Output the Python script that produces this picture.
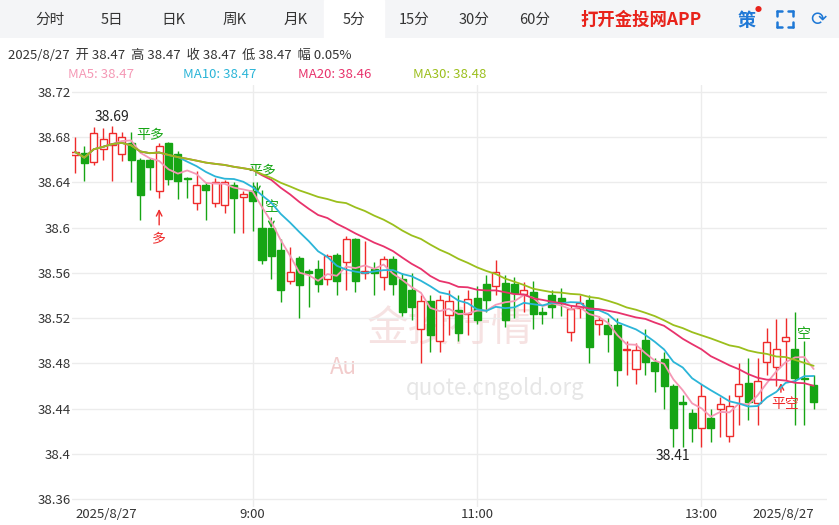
import numpy as np, pandas as pd, matplotlib
matplotlib.use("Agg")
import matplotlib.pyplot as plt, seaborn as sns
from matplotlib.patches import Rectangle
from matplotlib.lines import Line2D

sns.set_style("white")
plt.rcParams['font.family'] = ['Noto Sans CJK SC', 'DejaVu Sans']

opens  = [38.664,38.666,38.658,38.670,38.673,38.665,38.675,38.660,38.660,38.632,38.675,38.665,38.644,38.622,38.638,38.622,38.620,38.638,38.627,38.632,
          38.600,38.600,38.580,38.553,38.573,38.562,38.563,38.555,38.576,38.570,38.590,38.560,38.563,38.556,38.572,38.555,38.545,38.510,38.535,38.500,
          38.523,38.527,38.524,38.538,38.550,38.548,38.551,38.550,38.541,38.543,38.525,38.540,38.538,38.508,38.529,38.536,38.515,38.514,38.514,38.492,
          38.475,38.501,38.481,38.484,38.460,38.446,38.436,38.423,38.432,38.440,38.416,38.451,38.463,38.445,38.481,38.477,38.500,38.493,38.467,38.461]
closes = [38.667,38.657,38.684,38.678,38.684,38.680,38.660,38.629,38.654,38.672,38.643,38.641,38.643,38.638,38.633,38.640,38.640,38.626,38.630,38.624,
          38.571,38.575,38.545,38.561,38.549,38.560,38.550,38.575,38.553,38.590,38.553,38.562,38.560,38.572,38.550,38.525,38.530,38.535,38.505,38.536,
          38.535,38.507,38.537,38.518,38.536,38.561,38.518,38.542,38.545,38.524,38.524,38.530,38.533,38.528,38.533,38.494,38.518,38.506,38.474,38.492,
          38.492,38.481,38.473,38.460,38.423,38.444,38.423,38.451,38.423,38.444,38.442,38.462,38.446,38.464,38.499,38.493,38.503,38.467,38.466,38.446]
highs  = [38.680,38.672,38.689,38.688,38.690,38.685,38.685,38.662,38.662,38.675,38.676,38.668,38.645,38.650,38.640,38.644,38.642,38.640,38.632,38.640,
          38.633,38.600,38.590,38.583,38.575,38.563,38.571,38.577,38.578,38.593,38.591,38.588,38.570,38.575,38.575,38.560,38.560,38.540,38.540,38.540,
          38.545,38.540,38.545,38.548,38.558,38.571,38.558,38.556,38.552,38.553,38.530,38.545,38.547,38.532,38.540,38.540,38.522,38.520,38.520,38.500,
          38.498,38.510,38.485,38.490,38.462,38.452,38.440,38.462,38.440,38.450,38.452,38.480,38.485,38.485,38.511,38.519,38.520,38.525,38.500,38.470]
lows   = [38.648,38.641,38.655,38.660,38.641,38.659,38.640,38.607,38.633,38.626,38.638,38.625,38.626,38.616,38.607,38.618,38.613,38.595,38.595,38.597,
          38.568,38.555,38.534,38.550,38.520,38.530,38.543,38.549,38.540,38.545,38.543,38.555,38.540,38.545,38.540,38.522,38.518,38.480,38.490,38.490,
          38.505,38.500,38.505,38.515,38.525,38.540,38.512,38.520,38.525,38.510,38.515,38.520,38.522,38.500,38.520,38.480,38.505,38.490,38.460,38.470,
          38.462,38.470,38.455,38.440,38.406,38.406,38.410,38.406,38.410,38.415,38.410,38.425,38.430,38.425,38.470,38.460,38.465,38.425,38.425,38.440]
xticks_idx = [0, 19, 43, 67, 79]
xtick_labels = ["2025/8/27", "9:00", "11:00", "13:00", "2025/8/27"]
yticks = [38.36, 38.4, 38.44, 38.48, 38.52, 38.56, 38.6, 38.64, 38.68, 38.72]
ma_names = ["MA5", "MA10", "MA20", "MA30"]
ma_periods = [5, 10, 20, 30]
ma_last = ["38.47", "38.47", "38.46", "38.48"]
ma_colors = ["#f598b5", "#2bb5d8", "#e8336c", "#9bbf1c"]

df = pd.DataFrame({"i": np.arange(len(closes)), "o": opens, "c": closes, "h": highs, "l": lows})
for name, n in zip(ma_names, ma_periods):
    df[name] = df["c"].rolling(n, min_periods=1).mean()

W, H = 839, 525
fig = plt.figure(figsize=(W/100, H/100), dpi=100)
def fx(x): return x / W
def fy(y): return 1 - y / H

tb = fig.add_axes([0, fy(38), 1, 38/H]); tb.axis("off")
tb.add_patch(Rectangle((0, 0), 1, 1, color="#f4f5f7", transform=tb.transAxes))
tb.add_patch(Rectangle((fx(324), 0), fx(60), 1, color="white", transform=tb.transAxes))
tabs = [("分时", 50), ("5日", 112), ("日K", 173), ("周K", 235), ("月K", 296), ("5分", 354), ("15分", 414), ("30分", 474), ("60分", 535)]
for t, x in tabs:
    fig.text(fx(x), fy(20), t, ha="center", va="center", fontsize=10.5, color="#333333")
fig.text(fx(580), fy(20), "打开金投网APP", ha="left", va="center", fontsize=12.5, color="#e8231b", fontweight="bold")
fig.text(fx(747), fy(20), "策", ha="center", va="center", fontsize=13, color="#1e78d6", fontweight="bold")
fig.text(fx(758), fy(10), "●", ha="center", va="center", fontsize=5, color="#e8231b")
# fullscreen corner icon (drawn as shape)
bc = "#1e78d6"
for (cx, cy, dx, dy) in [(777, 11, 1, 1), (793, 11, -1, 1), (777, 27, 1, -1), (793, 27, -1, -1)]:
    fig.add_artist(Line2D([fx(cx), fx(cx + 5*dx)], [fy(cy), fy(cy)], color=bc, lw=1.8))
    fig.add_artist(Line2D([fx(cx), fx(cx)], [fy(cy), fy(cy + 5*dy)], color=bc, lw=1.8))
fig.text(fx(818), fy(19), "⟳", ha="center", va="center", fontsize=14, color=bc, family=["DejaVu Sans"])

fig.text(fx(8), fy(55), "2025/8/27  开 38.47  高 38.47  收 38.47  低 38.47  幅 0.05%", ha="left", va="center", fontsize=9.5, color="#333333")
for name, v, col, x in zip(ma_names, ma_last, ma_colors, [68, 183, 298, 413]):
    fig.text(fx(x), fy(75), f"{name}: {v}", ha="left", va="center", fontsize=9.5, color=col)

ax = fig.add_axes([fx(72), fy(507), fx(827-72), (507-85)/H])
ax.set_xlim((72-75)/9.35, (827-75)/9.35)
ax.set_ylim(38.72 - (507-92)/1130.5, 38.72 + 7/1130.5)
ax.set_yticks(yticks); ax.set_yticklabels([f"{v:g}" for v in yticks], fontsize=9.5, color="#333333")
ax.set_xticks(xticks_idx); ax.set_xticklabels(xtick_labels, fontsize=9.5, color="#333333")
lbls = ax.get_xticklabels()
lbls[0].set_ha("left"); lbls[-1].set_ha("right")
ax.tick_params(length=0, pad=1)
ax.grid(axis="y", color="#ececec", lw=1)
for i in xticks_idx[1:4]:
    ax.axvline(i, color="#ececec", lw=1, zorder=0)
for s in ax.spines.values(): s.set_visible(False)

ax.text(0.5, 0.42, "金投行情", transform=ax.transAxes, fontsize=30, color="#f3d6d6", ha="center", va="center", alpha=0.7, zorder=0)
ax.text(0.56, 0.28, "quote.cngold.org", transform=ax.transAxes, fontsize=16, color="#e6e6e6", ha="center", va="center", zorder=0)
ax.text(0.36, 0.33, "Au", transform=ax.transAxes, fontsize=16, color="#f2cccc", ha="center", va="center", zorder=0)

w = 0.75
for r in df.itertuples():
    up = r.c >= r.o
    col = "#ef2b2b" if up else "#16a514"
    lo, hi = min(r.o, r.c), max(r.o, r.c)
    ax.vlines(r.i, r.l, lo, color=col, lw=1, zorder=2)
    ax.vlines(r.i, hi, r.h, color=col, lw=1, zorder=2)
    hgt = max(hi - lo, 0.0008)
    ax.add_patch(Rectangle((r.i - w/2, lo), w, hgt, facecolor="white" if up else col, edgecolor=col, lw=1, zorder=3))

for name, col in zip(ma_names, ma_colors):
    sns.lineplot(data=df, x="i", y=name, color=col, lw=1.3, ax=ax, zorder=4)
ax.set_xlabel(""); ax.set_ylabel("")

ax.text(4, 38.692, "38.69", fontsize=10, ha="center", va="bottom", color="#222222")
ax.text(64, 38.404, "38.41", fontsize=10, ha="center", va="top", color="#222222")
g, rd = "#16a514", "#ef2b2b"
ax.text(8, 38.682, "平多", color=g, fontsize=10, ha="center", va="center", zorder=5)
ax.annotate("", xy=(9, 38.619), xytext=(9, 38.600), arrowprops=dict(arrowstyle="->", color=rd, lw=1))
ax.text(9, 38.59, "多", color=rd, fontsize=10, ha="center", va="center")
ax.text(20, 38.650, "平多", color=g, fontsize=10, ha="center", va="center")
ax.annotate("", xy=(19.5, 38.628), xytext=(19.5, 38.642), arrowprops=dict(arrowstyle="->", color=g, lw=1))
ax.text(21, 38.618, "空", color=g, fontsize=10, ha="center", va="center")
ax.annotate("", xy=(21, 38.597), xytext=(21, 38.611), arrowprops=dict(arrowstyle="->", color=g, lw=1))
ax.text(78, 38.506, "空", color=g, fontsize=10, ha="center", va="center")
ax.text(76, 38.444, "平空", color=rd, fontsize=10, ha="center", va="center")
ax.annotate("", xy=(75.5, 38.465), xytext=(75.5, 38.452), arrowprops=dict(arrowstyle="->", color=rd, lw=1))

fig.savefig("out.png", dpi=100)
